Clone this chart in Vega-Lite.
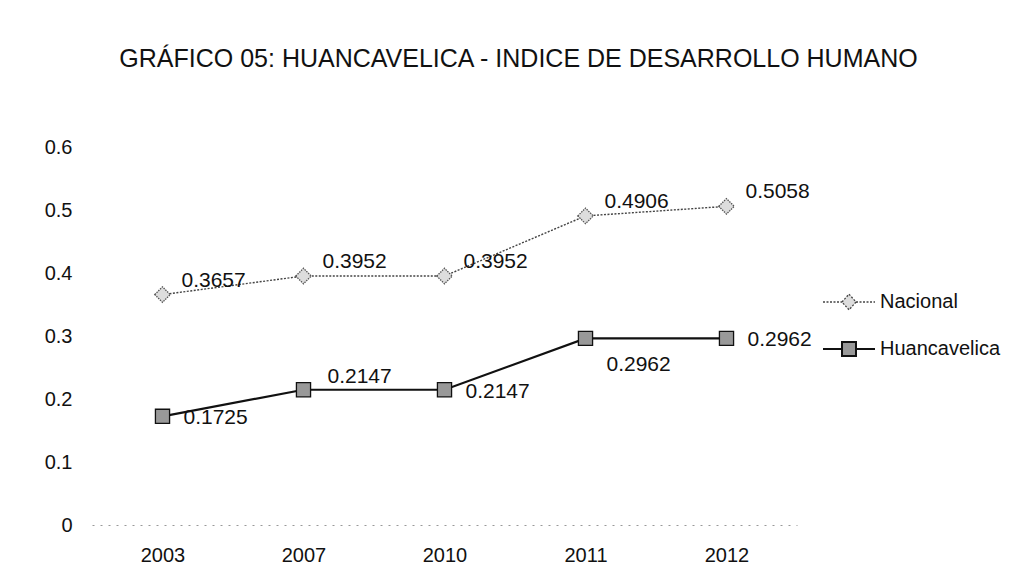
{
  "$schema": "https://vega.github.io/schema/vega-lite/v6.json",
  "autosize": {"type": "none"},
  "width": 705,
  "height": 378,
  "padding": {"left": 92, "top": 147, "right": 224, "bottom": 48},
  "background": "white",
  "config": {
    "view": {"stroke": null},
    "font": "Liberation Sans"
  },
  "title": {
    "text": "GRÁFICO 05: HUANCAVELICA - INDICE DE DESARROLLO HUMANO",
    "font": "Liberation Sans",
    "fontSize": 25,
    "fontWeight": "normal",
    "color": "#111",
    "anchor": "middle",
    "frame": "group",
    "dx": 74,
    "baseline": "alphabetic",
    "offset": 45
  },
  "data": {
    "values": [
      {"year": "2003", "series": "Nacional", "value": 0.3657},
      {"year": "2007", "series": "Nacional", "value": 0.3952},
      {"year": "2010", "series": "Nacional", "value": 0.3952},
      {"year": "2011", "series": "Nacional", "value": 0.4906},
      {"year": "2012", "series": "Nacional", "value": 0.5058},
      {"year": "2003", "series": "Huancavelica", "value": 0.1725},
      {"year": "2007", "series": "Huancavelica", "value": 0.2147},
      {"year": "2010", "series": "Huancavelica", "value": 0.2147},
      {"year": "2011", "series": "Huancavelica", "value": 0.2962},
      {"year": "2012", "series": "Huancavelica", "value": 0.2962}
    ]
  },
  "encoding": {
    "x": {
      "field": "year",
      "type": "ordinal",
      "scale": {"type": "point", "padding": 0.5},
      "axis": {
        "title": null,
        "labelAngle": 0,
        "labelFontSize": 20,
        "labelColor": "#111",
        "labelPadding": 20,
        "ticks": false,
        "domainColor": "#999",
        "domainDash": [2, 6],
        "domainWidth": 1
      }
    },
    "y": {
      "field": "value",
      "type": "quantitative",
      "scale": {"domain": [0, 0.6], "nice": false},
      "axis": {
        "title": null,
        "values": [0, 0.1, 0.2, 0.3, 0.4, 0.5, 0.6],
        "format": "~g",
        "labelFontSize": 20,
        "labelColor": "#111",
        "labelPadding": 20,
        "ticks": false,
        "domain": false,
        "grid": false
      }
    },
    "color": {
      "field": "series",
      "type": "nominal",
      "scale": {"domain": ["Nacional", "Huancavelica"], "range": ["#444", "#111"]},
      "legend": {
        "orient": "none",
        "legendX": 735,
        "legendY": 145,
        "title": null,
        "labelFontSize": 20,
        "labelColor": "#111",
        "labelFont": "Liberation Sans",
        "symbolSize": 2704,
        "rowPadding": 24,
        "labelOffset": 4,
        "encode": {
          "symbols": {
            "update": {
              "x": {"value": 22},
              "shape": {"signal": "datum.value === 'Nacional' ? 'M-1,0H-0.27M0.27,0H1M0,-0.3L0.27,0L0,0.3L-0.27,0Z' : 'M-1,0H-0.27M0.27,0H1M-0.27,-0.27H0.27V0.27H-0.27Z'"},
              "size": {"value": 2704},
              "fill": {"signal": "datum.value === 'Nacional' ? '#ddd' : '#999'"},
              "fillOpacity": {"value": 1},
              "opacity": {"value": 1},
              "stroke": {"signal": "datum.value === 'Nacional' ? '#444' : '#111'"},
              "strokeDash": {"signal": "datum.value === 'Nacional' ? [2, 1.5] : [1, 0]"},
              "strokeWidth": {"signal": "datum.value === 'Nacional' ? 1.3 : 2"}
            }
          },
          "labels": {
            "update": {
              "x": {"value": 53}
            }
          }
        }
      }
    }
  },
  "layer": [
    {
      "transform": [{"filter": "datum.series === 'Nacional'"}],
      "mark": {"type": "line", "strokeDash": [2, 1.5], "strokeWidth": 1.4}
    },
    {
      "transform": [{"filter": "datum.series === 'Huancavelica'"}],
      "mark": {"type": "line", "strokeWidth": 2.2}
    },
    {
      "transform": [{"filter": "datum.series === 'Nacional'"}],
      "mark": {"type": "point", "shape": "diamond", "size": 240, "filled": true, "fill": "#ddd", "stroke": "#555", "strokeWidth": 1.3, "strokeDash": [1.5, 1], "opacity": 1},
      "encoding": {"color": {"value": null}}
    },
    {
      "transform": [{"filter": "datum.series === 'Huancavelica'"}],
      "mark": {"type": "point", "shape": "square", "size": 200, "filled": true, "fill": "#999", "stroke": "#111", "strokeWidth": 1.3, "opacity": 1},
      "encoding": {"color": {"value": null}}
    },
    {
      "transform": [{"filter": "datum.series === 'Nacional'"}],
      "mark": {"type": "text", "align": "left", "baseline": "alphabetic", "dx": 19, "dy": -8, "fontSize": 21, "color": "#111"},
      "encoding": {"text": {"field": "value", "type": "quantitative", "format": ".4f"}, "color": {"value": "#111"}}
    },
    {
      "transform": [{"filter": "datum.series === 'Huancavelica' && (datum.year === '2003' || datum.year === '2010' || datum.year === '2012')"}],
      "mark": {"type": "text", "align": "left", "baseline": "alphabetic", "dx": 21, "dy": 8, "fontSize": 21, "color": "#111"},
      "encoding": {"text": {"field": "value", "type": "quantitative", "format": ".4f"}, "color": {"value": "#111"}}
    },
    {
      "transform": [{"filter": "datum.series === 'Huancavelica' && datum.year === '2007'"}],
      "mark": {"type": "text", "align": "left", "baseline": "alphabetic", "dx": 24, "dy": -7, "fontSize": 21, "color": "#111"},
      "encoding": {"text": {"field": "value", "type": "quantitative", "format": ".4f"}, "color": {"value": "#111"}}
    },
    {
      "transform": [{"filter": "datum.series === 'Huancavelica' && datum.year === '2011'"}],
      "mark": {"type": "text", "align": "left", "baseline": "alphabetic", "dx": 21, "dy": 33, "fontSize": 21, "color": "#111"},
      "encoding": {"text": {"field": "value", "type": "quantitative", "format": ".4f"}, "color": {"value": "#111"}}
    }
  ]
}
